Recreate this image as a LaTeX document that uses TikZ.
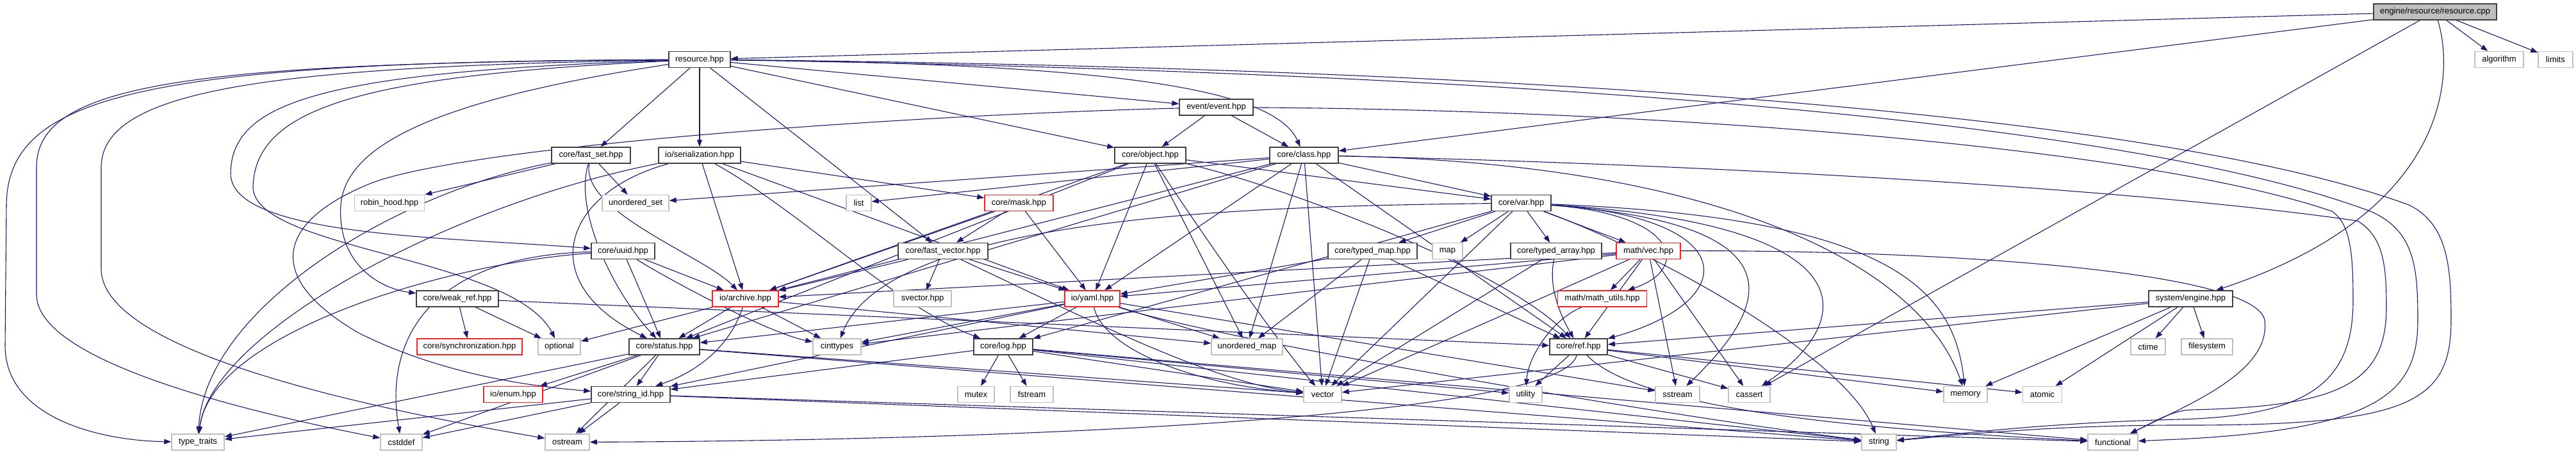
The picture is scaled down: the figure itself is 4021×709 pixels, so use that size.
\documentclass[tikz,border=0pt]{standalone}
\usepackage{fontspec}
\setmainfont{Liberation Sans}
\usetikzlibrary{arrows.meta}
\definecolor{edgec}{HTML}{191970}
\definecolor{gdark}{HTML}{404040}
\definecolor{glight}{HTML}{BFBFBF}
\definecolor{redc}{HTML}{FF2020}
\pgfdeclarelayer{bg}
\pgfsetlayers{bg,main}
\begin{document}
\begin{tikzpicture}[x=1pt,y=-1pt,
 base/.style={rectangle, minimum height=25pt, inner sep=0pt, font=\fontsize{13}{15}\selectfont, line width=1.5pt, fill=white},
 prj/.style={base, draw=gdark},
 ext/.style={base, draw=glight},
 inc/.style={base, draw=redc},
 edge/.style={draw=edgec, line width=1.1pt, -{Triangle[length=11pt,width=8pt]}},
]
\useasboundingbox (0,0) rectangle (4021,709);
% row 0
\node[prj, fill=glight, minimum width=192pt] (cpp) at (3801,18.5) {engine/resource/resource.cpp};
% row 1
\node[prj, minimum width=96pt] (res) at (1092,93) {resource.hpp};
\node[ext, minimum width=76pt] (alg) at (3901,93) {algorithm};
\node[ext, minimum width=54pt] (lim) at (3989,93) {limits};
% row 2
\node[prj, minimum width=115pt] (evt) at (1898.5,167.5) {event/event.hpp};
% row 3
\node[prj, minimum width=123pt] (fset) at (922.5,242.5) {core/fast\_set.hpp};
\node[prj, minimum width=128pt] (ser) at (1092,242.5) {io/serialization.hpp};
\node[prj, minimum width=111pt] (obj) at (1795.5,242.5) {core/object.hpp};
\node[prj, minimum width=107pt] (cls) at (2035.5,242.5) {core/class.hpp};
% row 4
\node[ext, minimum width=109pt] (rh) at (608,317) {robin\_hood.hpp};
\node[ext, minimum width=104pt] (uset) at (992,317) {unordered\_set};
\node[ext, minimum width=39pt] (lst) at (1340.5,317) {list};
\node[inc, minimum width=107pt] (msk) at (1590.5,317) {core/mask.hpp};
\node[prj, minimum width=93pt] (var) at (2374.5,317) {core/var.hpp};
% row 5
\node[prj, minimum width=99pt] (uuid) at (972.5,392) {core/uuid.hpp};
\node[prj, minimum width=140pt] (fvec) at (1472,392) {core/fast\_vector.hpp};
\node[prj, minimum width=139pt] (tmap) at (2142.5,392) {core/typed\_map.hpp};
\node[ext, minimum width=47pt] (map) at (2259.5,392) {map};
\node[prj, minimum width=142pt] (tarr) at (2429,392) {core/typed\_array.hpp};
\node[inc, minimum width=100pt] (vec) at (2573,392) {math/vec.hpp};
% row 6
\node[prj, minimum width=128pt] (wref) at (714,466.5) {core/weak\_ref.hpp};
\node[inc, minimum width=103pt] (arc) at (1163.5,466.5) {io/archive.hpp};
\node[ext, minimum width=90pt] (svec) at (1440,466.5) {svector.hpp};
\node[inc, minimum width=86pt] (yaml) at (1705,466.5) {io/yaml.hpp};
\node[inc, minimum width=139pt] (mu) at (2501,466.5) {math/math\_utils.hpp};
\node[prj, minimum width=131pt] (eng) at (3419.5,466.5) {system/engine.hpp};
% row 7
\node[inc, minimum width=164pt] (sync) at (733,541.5) {core/synchronization.hpp};
\node[ext, minimum width=66pt] (opt) at (873,541.5) {optional};
\node[prj, minimum width=110pt] (st) at (1037,541.5) {core/status.hpp};
\node[ext, minimum width=75pt] (cint) at (1306.5,541.5) {cinttypes};
\node[prj, minimum width=92pt] (log) at (1566,541.5) {core/log.hpp};
\node[ext, minimum width=111pt] (umap) at (1946.5,541.5) {unordered\_map};
\node[prj, minimum width=90pt] (ref) at (2464,541.5) {core/ref.hpp};
\node[ext, minimum width=54pt] (ctime) at (3353,541.5) {ctime};
\node[ext, minimum width=80pt] (fs) at (3445,541.5) {filesystem};
% row 8
\node[inc, minimum width=92pt] (enum) at (801,616) {io/enum.hpp};
\node[prj, minimum width=123pt] (sid) at (984.5,616) {core/string\_id.hpp};
\node[ext, minimum width=57pt] (mtx) at (1523.5,616) {mutex};
\node[ext, minimum width=67pt] (fstr) at (1610.5,616) {fstream};
\node[ext, minimum width=59pt] (vecr) at (2064.5,616) {vector};
\node[ext, minimum width=51pt] (util) at (2381.5,616) {utility};
\node[ext, minimum width=69pt] (sstr) at (2618.5,616) {sstream};
\node[ext, minimum width=65pt] (cas) at (2730.5,616) {cassert};
\node[ext, minimum width=68pt] (mem) at (3068,616) {memory};
\node[ext, minimum width=61pt] (atom) at (3188,616) {atomic};
% row 9
\node[ext, minimum width=82pt] (tt) at (309,690.5) {type\_traits};
\node[ext, minimum width=65pt] (csd) at (626.5,690.5) {cstddef};
\node[ext, minimum width=69pt] (ost) at (885.5,690.5) {ostream};
\node[ext, minimum width=54pt] (str) at (2933,690.5) {string};
\node[ext, minimum width=78pt] (func) at (3298,690.5) {functional};

\begin{pgfonlayer}{bg}
% cpp
\draw[edge] (cpp) -- (res);
\draw[edge] (cpp) -- (cls);
\draw[edge] (cpp) -- (cas);
\draw[edge] (cpp) .. controls (3830,110) and (3830,330) .. (eng);
\draw[edge] (cpp) -- (alg);
\draw[edge] (cpp) -- (lim);
% resource.hpp
\draw[edge] (res) -- (evt);
\draw[edge] (res) -- (fset);
\draw[edge] (res) -- (ser);
\draw[edge] (res) -- (obj);
\draw[edge] (res) .. controls (1750,100) and (1990,140) .. (cls);
\draw[edge] (res) -- (fvec);
\draw[edge] (res) .. controls (500,112) and (362,160) .. (360,270) .. controls (358,370) and (700,370) .. (uuid);
\draw[edge] (res) .. controls (720,150) and (540,215) .. (532,320) .. controls (526,410) and (590,450) .. (wref);
\draw[edge] (res) .. controls (560,118) and (400,170) .. (395,290) .. controls (390,390) and (800,400) .. (opt);
\draw[edge] (res) .. controls (420,104) and (160,140) .. (158,260) -- (158,420) .. controls (158,560) and (650,650) .. (ost);
\draw[edge] (res) .. controls (300,98) and (58,130) .. (57,260) -- (57,460) .. controls (57,570) and (420,650) .. (csd);
\draw[edge] (res) .. controls (220,96) and (12,150) .. (10,320) -- (8,540) .. controls (8,650) and (150,688) .. (tt);
\draw[edge] (res) .. controls (2300,112) and (3300,180) .. (3700,330) .. controls (3770,360) and (3774,420) .. (3774,500) .. controls (3774,610) and (3720,670) .. (3400,686) -- (func);
\draw[edge] (res) .. controls (2300,105) and (3350,170) .. (3760,320) .. controls (3822,350) and (3826,420) .. (3826,500) .. controls (3826,630) and (3760,665) .. (3400,664) .. controls (3200,664) and (3050,680) .. (str);
% event
\draw[edge] (evt) -- (obj);
\draw[edge] (evt) -- (cls);
\draw[edge] (evt) .. controls (2600,172) and (3350,230) .. (3640,330) .. controls (3670,350) and (3673,400) .. (3673,470) .. controls (3673,600) and (3600,650) .. (3400,655) .. controls (3200,660) and (3050,678) .. (str);
\draw[edge] (evt) .. controls (1400,180) and (700,230) .. (570,290) .. controls (440,345) and (405,430) .. (560,520) .. controls (700,590) and (850,605) .. (sid);
% fast_set
\draw[edge] (fset) -- (rh);
\draw[edge] (fset) -- (uset);
\draw[edge] (fset) .. controls (905,330) and (1100,400) .. (arc);
\draw[edge] (fset) .. controls (895,330) and (960,460) .. (st);
\draw[edge] (fset) .. controls (620,300) and (320,480) .. (tt);
% serialization
\draw[edge] (ser) -- (arc);
\draw[edge] (ser) -- (yaml);
\draw[edge] (ser) .. controls (1250,330) and (1400,480) .. (log);
\draw[edge] (ser) -- (msk);
\draw[edge] (ser) .. controls (880,300) and (830,440) .. (st);
\draw[edge] (ser) .. controls (700,320) and (330,520) .. (tt);
% object
\draw[edge] (obj) -- (var);
\draw[edge] (obj) -- (yaml);
\draw[edge] (obj) -- (umap);
\draw[edge] (obj) .. controls (1900,400) and (2000,540) .. (vecr);
\draw[edge] (obj) .. controls (2000,290) and (2350,420) .. (ref);
\draw[edge] (obj) -- (arc);
\draw[edge] (obj) -- (st);
% class
\draw[edge] (cls) -- (var);
\draw[edge] (cls) -- (lst);
\draw[edge] (cls) -- (uset);
\draw[edge] (cls) -- (yaml);
\draw[edge] (cls) -- (umap);
\draw[edge] (cls) -- (vecr);
\draw[edge] (cls) -- (arc);
\draw[edge] (cls) -- (st);
\draw[edge] (cls) .. controls (2600,255) and (3300,290) .. (3680,345) .. controls (3722,370) and (3725,420) .. (3725,480) .. controls (3725,600) and (3650,635) .. (3420,640) .. controls (3390,641) and (3360,660) .. (func);
\draw[edge] (cls) .. controls (2700,255) and (3000,420) .. (mem);
\draw[edge] (cls) -- (ref);
% mask
\draw[edge] (msk) -- (fvec);
\draw[edge] (msk) -- (yaml);
\draw[edge] (msk) -- (arc);
% var
\draw[edge] (var) -- (tmap);
\draw[edge] (var) -- (map);
\draw[edge] (var) -- (tarr);
\draw[edge] (var) -- (vec);
\draw[edge] (var) .. controls (2620,335) and (2640,420) .. (mu);
\draw[edge] (var) .. controls (2720,340) and (2720,470) .. (ref);
\draw[edge] (var) -- (vecr);
\draw[edge] (var) .. controls (2920,350) and (2900,500) .. (cas);
\draw[edge] (var) .. controls (2820,350) and (2760,480) .. (sstr);
\draw[edge] (var) .. controls (2950,340) and (3050,450) .. (mem);
\draw[edge] (var) .. controls (2600,400) and (2880,560) .. (str);
\draw[edge] (var) .. controls (2000,322) and (1390,330) .. (cint);
\draw[edge] (var) -- (log);
% uuid
\draw[edge] (uuid) -- (arc);
\draw[edge] (uuid) -- (st);
\draw[edge] (uuid) .. controls (1050,440) and (1200,520) .. (cint);
\draw[edge] (uuid) .. controls (700,410) and (330,520) .. (tt);
\draw[edge] (uuid) .. controls (660,400) and (600,540) .. (csd);
% fast_vector
\draw[edge] (fvec) -- (svec);
\draw[edge] (fvec) -- (yaml);
\draw[edge] (fvec) -- (arc);
\draw[edge] (fvec) .. controls (1700,500) and (1900,600) .. (vecr);
% typed_map / typed_array
\draw[edge] (tmap) -- (ref);
\draw[edge] (tmap) -- (vecr);
\draw[edge] (tmap) -- (yaml);
\draw[edge] (tmap) -- (umap);
\draw[edge] (tarr) .. controls (2415,450) and (2440,500) .. (ref);
\draw[edge] (tarr) -- (vecr);
% vec
\draw[edge] (vec) -- (mu);
\draw[edge] (vec) -- (ref);
\draw[edge] (vec) -- (sstr);
\draw[edge] (vec) -- (cas);
\draw[edge] (vec) -- (yaml);
\draw[edge] (vec) -- (arc);
\draw[edge] (vec) -- (cint);
\draw[edge] (vec) -- (vecr);
\draw[edge] (vec) .. controls (3000,390) and (3520,420) .. (3535,500) .. controls (3545,580) and (3420,630) .. (func);
\draw[edge] (mu) .. controls (2420,500) and (2385,560) .. (util);
% weak_ref
\draw[edge] (wref) -- (sync);
\draw[edge] (wref) -- (opt);
\draw[edge] (wref) -- (ref);
% archive
\draw[edge] (arc) -- (st);
\draw[edge] (arc) -- (opt);
\draw[edge] (arc) -- (cint);
\draw[edge] (arc) .. controls (1140,540) and (1090,580) .. (sid);
\draw[edge] (arc) -- (umap);
% yaml
\draw[edge] (yaml) -- (log);
\draw[edge] (yaml) -- (umap);
\draw[edge] (yaml) .. controls (1720,540) and (1850,600) .. (vecr);
\draw[edge] (yaml) -- (st);
\draw[edge] (yaml) -- (sid);
\draw[edge] (yaml) -- (cint);
\draw[edge] (yaml) .. controls (1900,530) and (2600,650) .. (str);
\draw[edge] (yaml) -- (sstr);
% log
\draw[edge] (log) -- (mtx);
\draw[edge] (log) -- (fstr);
\draw[edge] (log) -- (vecr);
\draw[edge] (log) -- (str);
\draw[edge] (log) -- (func);
\draw[edge] (log) -- (sid);
\draw[edge] (log) -- (util);
% status
\draw[edge] (st) -- (enum);
\draw[edge] (st) -- (ost);
\draw[edge] (st) -- (sid);
\draw[edge] (st) -- (tt);
\draw[edge] (st) -- (csd);
\draw[edge] (st) -- (str);
\draw[edge] (st) -- (vecr);
% string_id
\draw[edge] (sid) -- (ost);
\draw[edge] (sid) -- (tt);
\draw[edge] (sid) -- (csd);
\draw[edge] (sid) -- (str);
\draw[edge] (sid) -- (func);
% ref
\draw[edge] (ref) -- (util);
\draw[edge] (ref) -- (cas);
\draw[edge] (ref) -- (atom);
\draw[edge] (ref) -- (mem);
\draw[edge] (ref) .. controls (2440,650) and (1600,688) .. (ost);
\draw[edge] (ref) .. controls (2560,640) and (2900,670) .. (func);
% engine
\draw[edge] (eng) -- (ctime);
\draw[edge] (eng) -- (fs);
\draw[edge] (eng) -- (mem);
\draw[edge] (eng) -- (atom);
\draw[edge] (eng) -- (ref);
\draw[edge] (eng) -- (vecr);
\end{pgfonlayer}
\end{tikzpicture}
\end{document}
